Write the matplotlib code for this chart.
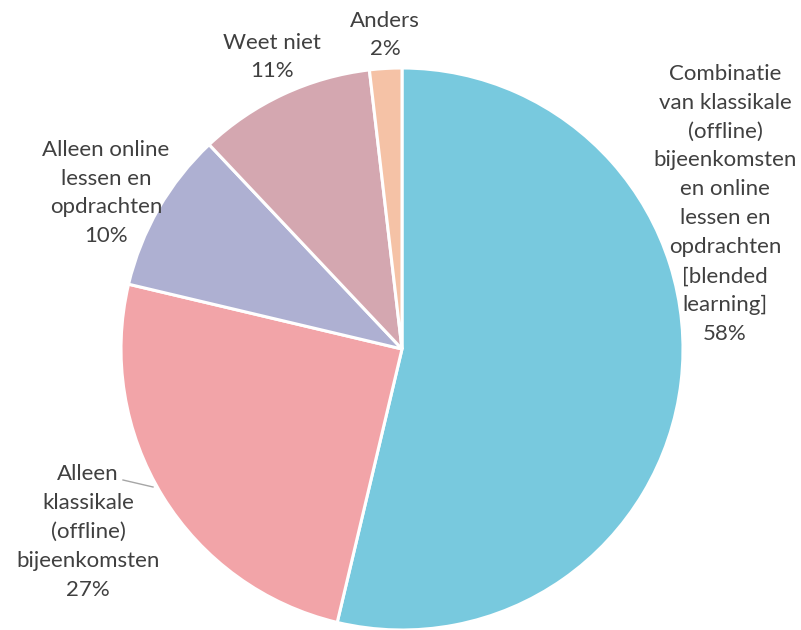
import matplotlib
matplotlib.use("Agg")
import matplotlib.pyplot as plt

# Survey answers: preferred form of education
categories = [
    "Combinatie\nvan klassikale\n(offline)\nbijeenkomsten\nen online\nlessen en\nopdrachten\n[blended\nlearning]",
    "Alleen\nklassikale\n(offline)\nbijeenkomsten",
    "Alleen online\nlessen en\nopdrachten",
    "Weet niet",
    "Anders",
]
values = [58, 27, 10, 11, 2]
colors = ["#78C9DE", "#F2A4A8", "#AEB0D2", "#D4A7B0", "#F5C2A6"]

W, H = 801, 630
fig = plt.figure(figsize=(W / 100, H / 100), dpi=100)
ax = fig.add_axes([0, 0, 1, 1])

cx, cy, r = 402, H - 349, 281
ax.pie(values, colors=colors, startangle=90, counterclock=False,
       center=(cx, cy), radius=r,
       wedgeprops=dict(edgecolor="white", linewidth=2.2))
ax.set_xlim(0, W)
ax.set_ylim(0, H)
ax.set_aspect("equal")
ax.axis("off")

# label block centres in pixels (x, y from top)
label_pos = [(725, 204), (88, 532), (106, 193), (272, 57), (385, 35)]
font = dict(family=["Lato", "DejaVu Sans"], size=16, color="#404040")
for name, val, (lx, ly) in zip(categories, values, label_pos):
    ax.text(lx, H - ly, f"{name}\n{val}%", ha="center", va="center",
            linespacing=1.56, **font)

# leader line for the lower-left label
ax.plot([123, 153], [H - 480, H - 487], color="#A6A6A6", lw=1)

fig.savefig("out.png", dpi=100)
